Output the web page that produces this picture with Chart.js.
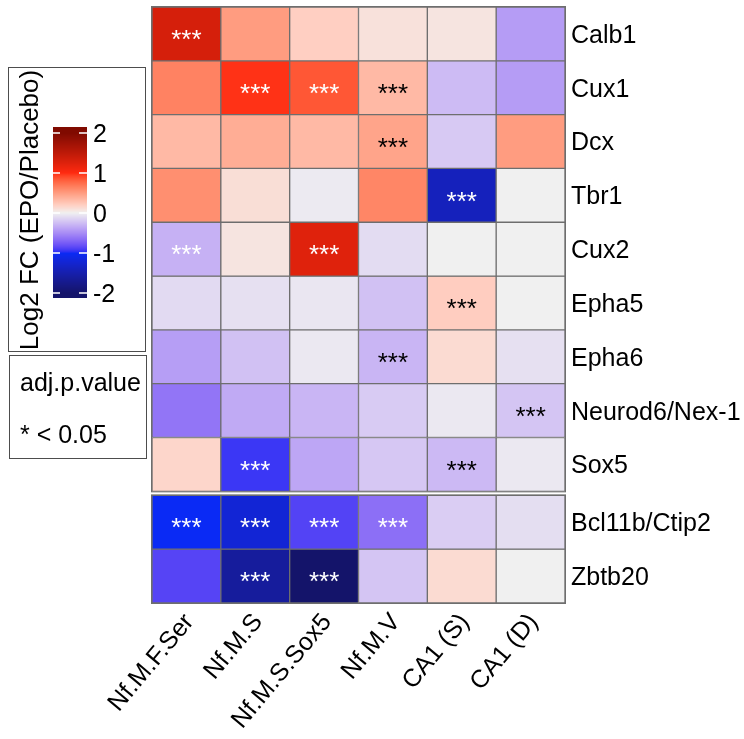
<!DOCTYPE html>
<html>
<head>
<meta charset="utf-8">
<script src="https://cdn.jsdelivr.net/npm/chart.js@4.4.1/dist/chart.umd.min.js"></script>
<style>
  html, body { margin: 0; padding: 0; background: #fff; }
  canvas { display: block; }
</style>
</head>
<body>
<canvas id="heat" width="744" height="739"></canvas>
<script>
// cell types (columns) and genes (rows)
const cellTypes = ["Nf.M.F.Ser", "Nf.M.S", "Nf.M.S.Sox5", "Nf.M.V", "CA1 (S)", "CA1 (D)"];
const genes = ["Calb1", "Cux1", "Dcx", "Tbr1", "Cux2", "Epha5", "Epha6",
               "Neurod6/Nex-1", "Sox5", "Bcl11b/Ctip2", "Zbtb20"];
const upperRows = 9; // first block of genes, the rest go in the second block

// log2 fold change EPO vs placebo, one array per gene
const calb1   = [ 1.32,  0.50,  0.20,  0.09,  0.07, -0.42];
const cux1    = [ 0.64,  0.98,  0.85,  0.33, -0.26, -0.42];
const dcx     = [ 0.33,  0.40,  0.33,  0.45, -0.19,  0.50];
const tbr1    = [ 0.57,  0.11, -0.03,  0.62, -1.39,  0.00];
const cux2    = [-0.31,  0.07,  1.24, -0.10,  0.00,  0.00];
const epha5   = [-0.11, -0.08, -0.05, -0.23,  0.21,  0.00];
const epha6   = [-0.41, -0.23, -0.04, -0.29,  0.13, -0.08];
const neurod6 = [-0.62, -0.35, -0.29, -0.18, -0.04, -0.21];
const sox5    = [ 0.16, -0.94, -0.37, -0.20, -0.27, -0.04];
const bcl11b  = [-1.00, -1.22, -0.88, -0.65, -0.17, -0.09];
const zbtb20  = [-0.87, -1.62, -2.00, -0.21,  0.13,  0.00];
const log2fc = [calb1, cux1, dcx, tbr1, cux2, epha5, epha6, neurod6, sox5, bcl11b, zbtb20];

// adj.p.value < 0.05 (1 = significant)
const sigCalb1   = [1, 0, 0, 0, 0, 0];
const sigCux1    = [0, 1, 1, 1, 0, 0];
const sigDcx     = [0, 0, 0, 1, 0, 0];
const sigTbr1    = [0, 0, 0, 0, 1, 0];
const sigCux2    = [1, 0, 1, 0, 0, 0];
const sigEpha5   = [0, 0, 0, 0, 1, 0];
const sigEpha6   = [0, 0, 0, 1, 0, 0];
const sigNeurod6 = [0, 0, 0, 0, 0, 1];
const sigSox5    = [0, 1, 0, 0, 1, 0];
const sigBcl11b  = [1, 1, 1, 1, 0, 0];
const sigZbtb20  = [0, 1, 1, 0, 0, 0];
const significant = [sigCalb1, sigCux1, sigDcx, sigTbr1, sigCux2, sigEpha5, sigEpha6,
                     sigNeurod6, sigSox5, sigBcl11b, sigZbtb20];

const legendTicks = [2, 1, 0, -1, -2];

// ---- colour ramp (interpolated in Lab, like circlize::colorRamp2) ----
const rampStops = [-2, -1, 0, 1, 2];
const rampColors = ["#14146a", "#0a2af5", "#f0f0f0", "#ff2a10", "#800a00"];

function hexToRgb(h) {
  return [1, 3, 5].map(i => parseInt(h.substr(i, 2), 16));
}
function toLin(c) { c /= 255; return c <= 0.04045 ? c / 12.92 : Math.pow((c + 0.055) / 1.055, 2.4); }
function fromLin(c) {
  const v = c <= 0.0031308 ? 12.92 * c : 1.055 * Math.pow(c, 1 / 2.4) - 0.055;
  return Math.round(Math.max(0, Math.min(1, v)) * 255);
}
const WX = 0.95047, WY = 1.0, WZ = 1.08883;
function rgbToLab([r, g, b]) {
  const R = toLin(r), G = toLin(g), B = toLin(b);
  const X = (0.4124 * R + 0.3576 * G + 0.1805 * B) / WX;
  const Y = (0.2126 * R + 0.7152 * G + 0.0722 * B) / WY;
  const Z = (0.0193 * R + 0.1192 * G + 0.9505 * B) / WZ;
  const f = t => t > 0.008856 ? Math.cbrt(t) : 7.787 * t + 16 / 116;
  const fx = f(X), fy = f(Y), fz = f(Z);
  return [116 * fy - 16, 500 * (fx - fy), 200 * (fy - fz)];
}
function labToRgb([L, a, b]) {
  const fy = (L + 16) / 116, fx = fy + a / 500, fz = fy - b / 200;
  const inv = t => t * t * t > 0.008856 ? t * t * t : (t - 16 / 116) / 7.787;
  const X = inv(fx) * WX, Y = inv(fy) * WY, Z = inv(fz) * WZ;
  const R = 3.2406 * X - 1.5372 * Y - 0.4986 * Z;
  const G = -0.9689 * X + 1.8758 * Y + 0.0415 * Z;
  const B = 0.0557 * X - 0.2040 * Y + 1.0570 * Z;
  return [fromLin(R), fromLin(G), fromLin(B)];
}
const rampLab = rampColors.map(c => rgbToLab(hexToRgb(c)));

function fcColor(v) {
  v = Math.max(rampStops[0], Math.min(rampStops[rampStops.length - 1], v));
  let i = 0;
  while (i < rampStops.length - 2 && v > rampStops[i + 1]) i++;
  const t = (v - rampStops[i]) / (rampStops[i + 1] - rampStops[i]);
  const a = rampLab[i], b = rampLab[i + 1];
  const rgb = labToRgb([0, 1, 2].map(k => a[k] + (b[k] - a[k]) * t));
  return `rgb(${rgb[0]},${rgb[1]},${rgb[2]})`;
}

// ---- row layout: two blocks with a small gap between them ----
const blockGap = 0.075;
const rowTop = r => r + (r >= upperRows ? blockGap : 0);
const totalRows = genes.length + blockGap;
const rowCenters = genes.map((g, r) => rowTop(r) + 0.5);

const FONT = "'Liberation Sans', Arial, Helvetica, sans-serif";
const cellBorder = "#6e6e6e";
// significant cells that keep light stars on a pale fill
const lightStarCells = [[4, 0], [9, 3]];

const datasets = genes.map((g, r) => ({
  label: g,
  data: cellTypes.map(() => [rowTop(r), rowTop(r) + 1]),
  backgroundColor: log2fc[r].map(fcColor),
  borderColor: cellBorder,
  borderWidth: 1,
  borderSkipped: false,
  grouped: false,
  barPercentage: 1,
  categoryPercentage: 1,
}));

const starsPlugin = {
  id: "stars",
  afterDatasetsDraw(chart) {
    const ctx = chart.ctx;
    const { x, y } = chart.scales;
    ctx.save();
    // outline around each block of rows
    ctx.strokeStyle = cellBorder;
    ctx.lineWidth = 1;
    [[0, upperRows], [upperRows, genes.length]].forEach(([a, b]) => {
      const top = y.getPixelForValue(rowTop(a));
      const bot = y.getPixelForValue(rowTop(b - 1) + 1);
      ctx.strokeRect(x.left - 0.5, top - 0.5, x.right - x.left + 1, bot - top + 1);
    });

    ctx.font = `26px ${FONT}`;
    ctx.textAlign = "center";
    ctx.textBaseline = "middle";
    chart.data.datasets.forEach((ds, r) => {
      chart.getDatasetMeta(r).data.forEach((bar, c) => {
        if (!significant[r][c]) return;
        const light = Math.abs(log2fc[r][c]) > 0.75 ||
          lightStarCells.some(([rr, cc]) => rr === r && cc === c);
        ctx.fillStyle = light ? "#ffffff" : "#000000";
        const cy = (bar.y + bar.base) / 2;
        ctx.fillText("***", bar.x, cy + 7);
      });
    });
    ctx.restore();
  },
};

const legendPlugin = {
  id: "fcLegend",
  afterDraw(chart) {
    const ctx = chart.ctx;
    ctx.save();
    // key boxes
    ctx.strokeStyle = "#4d4d4d";
    ctx.lineWidth = 1;
    ctx.strokeRect(8.5, 67.5, 137, 284);
    ctx.strokeRect(9.5, 355.5, 137, 103);

    // title, rotated
    ctx.fillStyle = "#000";
    ctx.font = `26px ${FONT}`;
    ctx.save();
    ctx.translate(31, 210);
    ctx.rotate(-Math.PI / 2);
    ctx.textAlign = "center";
    ctx.textBaseline = "middle";
    ctx.fillText("Log2 FC (EPO/Placebo)", 0, 0);
    ctx.restore();

    // colour bar
    const barL = 53, barR = 87, barTop = 127, barBot = 298;
    const zeroY = 213, perUnit = 40;
    for (let y = barTop; y < barBot; y++) {
      ctx.fillStyle = fcColor((zeroY - (y + 0.5)) / perUnit);
      ctx.fillRect(barL, y, barR - barL, 1);
    }
    ctx.font = `25px ${FONT}`;
    ctx.strokeStyle = "#ffffff";
    ctx.lineWidth = 1.5;
    ctx.textAlign = "left";
    ctx.textBaseline = "middle";
    legendTicks.forEach(v => {
      const y = zeroY - v * perUnit;
      ctx.beginPath();
      ctx.moveTo(barL, y); ctx.lineTo(barL + 7, y);
      ctx.moveTo(barR - 8, y); ctx.lineTo(barR, y);
      ctx.stroke();
      ctx.fillStyle = "#000";
      ctx.fillText(String(v), 93, y + 2);
    });

    // significance key
    ctx.fillText("adj.p.value", 20, 384);
    ctx.fillText("* < 0.05", 20, 436);
    ctx.restore();
  },
};

new Chart(document.getElementById("heat"), {
  type: "bar",
  data: { labels: cellTypes, datasets },
  options: {
    responsive: false,
    animation: false,
    layout: { padding: { left: 152, top: 7, right: 0, bottom: 0 } },
    plugins: {
      legend: { display: false },
      tooltip: { enabled: false },
    },
    scales: {
      x: {
        type: "category",
        offset: true,
        grid: { display: false, drawTicks: false },
        border: { display: false },
        ticks: {
          autoSkip: false,
          minRotation: 50,
          maxRotation: 50,
          padding: 5,
          labelOffset: 3,
          color: "#000",
          font: { family: FONT, size: 25 },
        },
        afterFit: s => { s.height = 136; s.paddingLeft = 0; s.paddingRight = 0; },
      },
      y: {
        type: "linear",
        position: "right",
        reverse: true,
        min: 0,
        max: totalRows,
        grid: { display: false, drawTicks: false },
        border: { display: false },
        afterBuildTicks: s => { s.ticks = rowCenters.map(v => ({ value: v })); },
        ticks: {
          autoSkip: false,
          padding: 6,
          labelOffset: 2,
          color: "#000",
          font: { family: FONT, size: 25 },
          callback: (v, i) => genes[i],
        },
        afterFit: s => { s.width = 179; s.paddingTop = 0; s.paddingBottom = 0; },
      },
    },
  },
  plugins: [starsPlugin, legendPlugin],
});
</script>
</body>
</html>
